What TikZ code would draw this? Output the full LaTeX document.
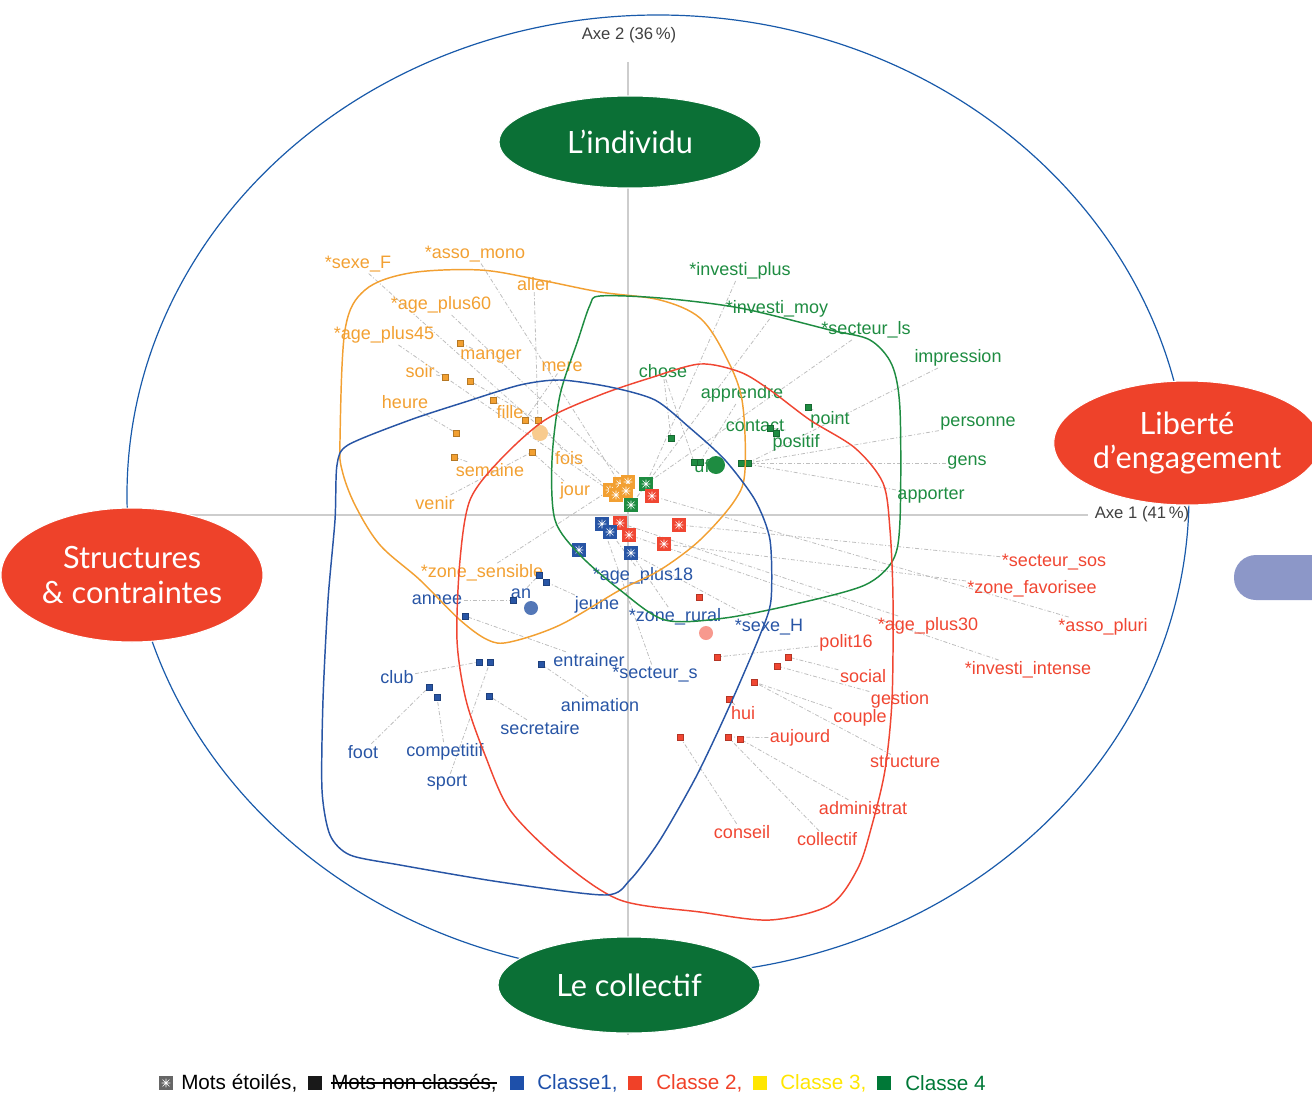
\documentclass[tikz,border=0pt]{standalone}
\usepackage{fontspec}
\setmainfont{Liberation Sans}
\newfontfamily\gill{Lato}
\usetikzlibrary{shapes.geometric,backgrounds}
\definecolor{OC}{RGB}{242,160,50}
\definecolor{GC}{RGB}{30,140,65}
\definecolor{BC}{RGB}{40,85,165}
\definecolor{RC}{RGB}{240,70,50}
\definecolor{LG}{RGB}{190,190,190}
\definecolor{AX}{RGB}{205,205,205}
\definecolor{EB}{RGB}{25,90,170}
\definecolor{NG}{RGB}{11,112,54}
\definecolor{NR}{RGB}{238,66,42}
\definecolor{SB}{RGB}{140,151,200}
\definecolor{LB}{RGB}{30,80,170}
\definecolor{LR}{RGB}{240,65,40}
\definecolor{LY}{RGB}{255,230,0}
\definecolor{LGr}{RGB}{0,120,55}
\begin{document}
\begin{tikzpicture}[x=0.75pt,y=-0.75pt,
  lab/.style={font=\fontsize{13.5}{15}\selectfont, inner sep=1pt},
  olab/.style={lab,text=OC}, glab/.style={lab,text=GC},
  blab/.style={lab,text=BC}, rlab/.style={lab,text=RC},
  mk/.style={rectangle, minimum size=4.5pt, inner sep=0pt, fill=#1, draw=#1!75!black, line width=0.3pt},
  smk/.style={rectangle, minimum size=11pt, inner sep=0pt, fill=#1,
    path picture={
      \draw[white,line width=0.5pt] ([shift={(-2.6pt,-2.6pt)}]path picture bounding box.center) -- ([shift={(2.6pt,2.6pt)}]path picture bounding box.center)
        ([shift={(-2.6pt,2.6pt)}]path picture bounding box.center) -- ([shift={(2.6pt,-2.6pt)}]path picture bounding box.center)
        ([shift={(-3.2pt,0pt)}]path picture bounding box.center) -- ([shift={(3.2pt,0pt)}]path picture bounding box.center)
        ([shift={(0pt,-3.2pt)}]path picture bounding box.center) -- ([shift={(0pt,3.2pt)}]path picture bounding box.center);
    }},
  lead/.style={draw=LG, line width=0.6pt, dash pattern=on 3pt off 1.5pt on 0.8pt off 1.5pt},
  cont/.style={line width=1.1pt},
  bubble/.style={ellipse, fill=#1, draw=white, line width=0.8pt, text=white, align=center, inner sep=0pt,
    font=\gill\fontsize{23}{26}\selectfont},
  leg/.style={font=\fontsize{15.5}{17}\selectfont, anchor=west, inner sep=0pt},
  sw/.style={rectangle, minimum size=10.5pt, inner sep=0pt, fill=#1},
  axl/.style={font=\fontsize{12.5}{14}\selectfont, text=black!75, inner sep=1pt}
]
\useasboundingbox (0,0) rectangle (1312,1102);

% ---------- labels: orange (classe 3)
\node[olab] (sF) at (358,264) {*sexe\_F};
\node[olab] (aM) at (475,254) {*asso\_mono};
\node[olab] (aller) at (534,284) {aller};
\node[olab] (a60) at (441,305) {*age\_plus60};
\node[olab] (a45) at (384,335) {*age\_plus45};
\node[olab] (manger) at (491,357) {manger};
\node[olab] (mere) at (562,367) {mere};
\node[olab] (soir) at (420,371) {soir};
\node[olab] (heure) at (405,402) {heure};
\node[olab] (fille) at (510,412) {fille};
\node[olab] (fois) at (569,458) {fois};
\node[olab] (semaine) at (490,470) {semaine};
\node[olab] (jour) at (575,491) {jour};
\node[olab] (venir) at (435,503) {venir};
\node[olab] (zS) at (482,573) {*zone\_sensible};
% green (classe 4)
\node[glab] (iP) at (740,271) {*investi\_plus};
\node[glab] (iM) at (777,309) {*investi\_moy};
\node[glab] (sL) at (866,330) {*secteur\_ls};
\node[glab] (impression) at (958,358) {impression};
\node[glab] (chose) at (663,371) {chose};
\node[glab] (apprendre) at (742,394) {apprendre};
\node[glab] (point) at (830,420) {point};
\node[glab] (contact) at (755,426) {contact};
\node[glab] (positif) at (796,443) {positif};
\node[glab] (personne) at (978,424) {personne};
\node[glab] (gens) at (967,463) {gens};
\node[glab] (apporter) at (931,496) {apporter};
\node[glab] (ufe) at (707,466) {ufe};
% blue (classe 1)
\node[blab] (a18) at (643,576) {*age\_plus18};
\node[blab] (annee) at (437,600) {annee};
\node[blab] (an) at (521,594) {an};
\node[blab] (jeune) at (597,605) {jeune};
\node[blab] (zR) at (675,617) {*zone\_rural};
\node[blab] (sH) at (769,627) {*sexe\_H};
\node[blab] (entrainer) at (589,660) {entrainer};
\node[blab] (sS) at (655,674) {*secteur\_s};
\node[blab] (club) at (397,677) {club};
\node[blab] (animation) at (600,705) {animation};
\node[blab] (secretaire) at (540,728) {secretaire};
\node[blab] (foot) at (363,752) {foot};
\node[blab] (competitif) at (445,752) {competitif};
\node[blab] (sport) at (447,783) {sport};
% red (classe 2)
\node[rlab] (sSos) at (1054,562) {*secteur\_sos};
\node[rlab] (zF) at (1032,589) {*zone\_favorisee};
\node[rlab] (aP) at (1103,627) {*asso\_pluri};
\node[rlab] (a30) at (928,626) {*age\_plus30};
\node[rlab] (polit) at (846,643) {polit16};
\node[rlab] (iI) at (1028,670) {*investi\_intense};
\node[rlab] (social) at (863,676) {social};
\node[rlab] (gestion) at (900,700) {gestion};
\node[rlab] (couple) at (860,718) {couple};
\node[rlab] (hui) at (743,713) {hui};
\node[rlab] (aujourd) at (800,738) {aujourd};
\node[rlab] (structure) at (905,762) {structure};
\node[rlab] (administrat) at (863,808) {administrat};
\node[rlab] (conseil) at (742,832) {conseil};
\node[rlab] (collectif) at (827,839) {collectif};

% ---------- big dots
\fill[OC!55] (540,433) circle[radius=8];
\fill[GC] (716,465) circle[radius=9];
\fill[BC!80] (531,608) circle[radius=7];
\fill[RC!55] (706,633) circle[radius=7];

% ---------- small markers
\node[mk=OC] (om1) at (460,343) {};
\node[mk=OC] (om2) at (445,377) {};
\node[mk=OC] (om3) at (470,381) {};
\node[mk=OC] (om4) at (493,400) {};
\node[mk=OC] (om5) at (525,420) {};
\node[mk=OC] (om6) at (538,420) {};
\node[mk=OC] (om7) at (456,433) {};
\node[mk=OC] (om8) at (454,457) {};
\node[mk=OC] (om9) at (532,452) {};
\node[mk=GC] (gm1) at (808,407) {};
\node[mk=GC] (gm2) at (770,428) {};
\node[mk=GC] (gm3) at (776,433) {};
\node[mk=GC] (gm4) at (671,438) {};
\node[mk=GC] (gm5) at (694,462) {};
\node[mk=GC] (gm6) at (700,462) {};
\node[mk=GC] (gm7) at (741,463) {};
\node[mk=GC] (gm8) at (748,463) {};
\node[mk=BC] (bm1) at (539,575) {};
\node[mk=BC] (bm2) at (546,582) {};
\node[mk=BC] (bm3) at (513,600) {};
\node[mk=BC] (bm4) at (465,616) {};
\node[mk=BC] (bm5) at (479,662) {};
\node[mk=BC] (bm6) at (490,662) {};
\node[mk=BC] (bm7) at (541,664) {};
\node[mk=BC] (bm8) at (429,687) {};
\node[mk=BC] (bm9) at (437,697) {};
\node[mk=BC] (bm10) at (489,696) {};
\node[mk=RC] (rm1) at (699,597) {};
\node[mk=RC] (rm2) at (717,657) {};
\node[mk=RC] (rm3) at (788,657) {};
\node[mk=RC] (rm4) at (777,666) {};
\node[mk=RC] (rm5) at (754,682) {};
\node[mk=RC] (rm6) at (729,699) {};
\node[mk=RC] (rm7) at (680,737) {};
\node[mk=RC] (rm8) at (728,737) {};
\node[mk=RC] (rm9) at (740,739) {};

% ---------- star markers
\node[smk=OC] (os1) at (610,490) {};
\node[smk=OC] (os2) at (620,484) {};
\node[smk=OC] (os3) at (628,482) {};
\node[smk=OC] (os4) at (616,495) {};
\node[smk=OC] (os5) at (626,491) {};
\node[smk=GC] (gs1) at (646,484) {};
\node[smk=GC] (gs2) at (631,505) {};
\node[smk=RC] (rs1) at (652,496) {};
\node[smk=RC] (rs2) at (620,523) {};
\node[smk=RC] (rs3) at (629,535) {};
\node[smk=RC] (rs4) at (679,525) {};
\node[smk=RC] (rs5) at (664,544) {};
\node[smk=BC] (bs1) at (602,524) {};
\node[smk=BC] (bs2) at (610,532) {};
\node[smk=BC] (bs3) at (579,550) {};
\node[smk=BC] (bs4) at (631,553) {};

% ---------- background: big ellipse, axes, leader lines
\begin{scope}[on background layer]
\draw[EB, line width=0.9pt] (658,495) ellipse [x radius=531, y radius=480];
\draw[AX, line width=1.4pt] (180,515) -- (1088,515);
\draw[AX, line width=1.4pt] (628,62) -- (628,1035);
% orange
\draw[lead] (sF) -- (os1);
\draw[lead] (aM) -- (os2);
\draw[lead] (a60) -- (os3);
\draw[lead] (a45) -- (os4);
\draw[lead] (zS) -- (os1);
\draw[lead] (aller) -- (om6);
\draw[lead] (manger) -- (om1);
\draw[lead] (soir) -- (om2);
\draw[lead] (om3) -- (om6);
\draw[lead] (mere) -- (om5);
\draw[lead] (heure) -- (om7);
\draw[lead] (semaine) -- (om8);
\draw[lead] (fille) -- (om4);
\draw[lead] (venir) -- (om9);
\draw[lead] (fois) -- (om6);
\draw[lead] (jour) -- (om9);
% green
\draw[lead] (iP) -- (gs1);
\draw[lead] (iM) -- (gs2);
\draw[lead] (sL) -- (gs1);
\draw[lead] (impression) -- (gm8);
\draw[lead] (personne) -- (gm8);
\draw[lead] (gens) -- (gm8);
\draw[lead] (apporter) -- (gm7);
\draw[lead] (point) -- (gm1);
\draw[lead] (contact) -- (gm2);
\draw[lead] (positif) -- (gm3);
\draw[lead] (apprendre) -- (gm6);
\draw[lead] (chose) -- (gm4);
\draw[lead] (chose) -- (gm5);
% blue
\draw[lead] (a18) -- (bs2);
\draw[lead] (zR) -- (bs4);
\draw[lead] (sH) -- (bs4);
\draw[lead] (sS) -- (bs1);
\draw[lead] (annee) -- (bm3);
\draw[lead] (an) -- (bm1);
\draw[lead] (jeune) -- (bm2);
\draw[lead] (entrainer) -- (bm4);
\draw[lead] (animation) -- (bm7);
\draw[lead] (club) -- (bm5);
\draw[lead] (secretaire) -- (bm10);
\draw[lead] (foot) -- (bm8);
\draw[lead] (competitif) -- (bm9);
\draw[lead] (sport) -- (bm6);
% red
\draw[lead] (sSos) -- (rs4);
\draw[lead] (zF) -- (rs5);
\draw[lead] (aP) -- (rs1);
\draw[lead] (a30) -- (rs2);
\draw[lead] (iI) -- (rs3);
\draw[lead] (polit) -- (rm2);
\draw[lead] (social) -- (rm3);
\draw[lead] (gestion) -- (rm4);
\draw[lead] (couple) -- (rm5);
\draw[lead] (structure) -- (rm5);
\draw[lead] (hui) -- (rm6);
\draw[lead] (aujourd) -- (rm8);
\draw[lead] (administrat) -- (rm9);
\draw[lead] (conseil) -- (rm7);
\draw[lead] (collectif) -- (rm8);
\end{scope}

% ---------- contours
\draw[cont, OC] plot[smooth cycle, tension=0.55] coordinates {
 (340,440) (345,330) (365,290) (410,273) (480,270) (540,280) (600,292) (660,300)
 (700,318) (725,355) (742,400) (745,470) (735,500) (700,540) (660,570) (620,590)
 (560,625) (510,642) (488,640) (460,620) (420,580) (380,545) (355,505) (342,470)};
\draw[cont, GC] plot[smooth cycle, tension=0.5] coordinates {
 (600,296) (660,298) (740,308) (830,330) (870,340) (892,365) (900,410) (900,520)
 (893,560) (865,585) (800,603) (725,618) (665,620) (620,590) (580,555) (555,520)
 (552,460) (560,395) (578,340) (590,305)};
\draw[cont, RC] plot[smooth cycle, tension=0.5] coordinates {
 (460,560) (470,500) (500,460) (545,420) (600,395) (650,378) (700,364) (740,372)
 (770,390) (810,420) (855,448) (883,483) (890,530) (893,600) (892,700) (885,770)
 (872,825) (858,868) (830,905) (770,920) (700,912) (620,900) (560,860) (510,810)
 (485,755) (466,700) (457,640)};
\draw[cont, BC] plot[smooth cycle, tension=0.45] coordinates {
 (560,380) (610,387) (655,400) (690,428) (725,460) (755,500) (770,540) (771,600)
 (760,635) (730,705) (697,775) (660,840) (630,880) (605,895) (500,882) (400,865)
 (350,855) (330,835) (322,790) (323,700) (328,600) (335,520) (337,465) (348,445)
 (410,420) (465,402) (520,385)};

% ---------- axis labels
\node[axl] (ax2) at (629,35) {Axe 2 (36\,\%)};
\node[axl] (ax1) at (1142,514) {Axe 1 (41\,\%)};

% ---------- thematic bubbles
\node[bubble=NG, minimum width=196.5pt, minimum height=69pt] (indiv) at (630,142) {L’individu};
\node[bubble=NG, minimum width=196.5pt, minimum height=72pt] (coll) at (629,985) {Le collectif};
\node[bubble=NR, minimum width=192pt, minimum height=93pt] (lib) at (1187,443) {Liberté\\d’engagement};
\node[bubble=NR, minimum width=196.5pt, minimum height=100.5pt] (struct) at (132,575) {Structures\\\& contraintes};
\fill[SB, rounded corners=16.5pt] (1234,555) rectangle (1360,600);

% ---------- legend
\node[smk=black!60] (lsw0) at (166,1083) {};
\node[leg] (l0) at (181,1083) {Mots étoilés,};
\node[sw=black!90] (lsw1) at (315,1083) {};
\node[leg] (l1) at (331,1083) {Mots non classés,};
\draw[black, line width=0.8pt] (l1.west) -- (l1.east);
\node[sw=LB] (lsw2) at (517,1083) {};
\node[leg, text=LB] (l2) at (537,1083) {Classe1,};
\node[sw=LR] (lsw3) at (635,1083) {};
\node[leg, text=LR] (l3) at (656,1083) {Classe 2,};
\node[sw=LY] (lsw4) at (760,1083) {};
\node[leg, text=LY] (l4) at (780,1083) {Classe 3,};
\node[sw=LGr] (lsw5) at (884,1083) {};
\node[leg, text=LGr] (l5) at (905,1083) {Classe 4};
\end{tikzpicture}
\end{document}
